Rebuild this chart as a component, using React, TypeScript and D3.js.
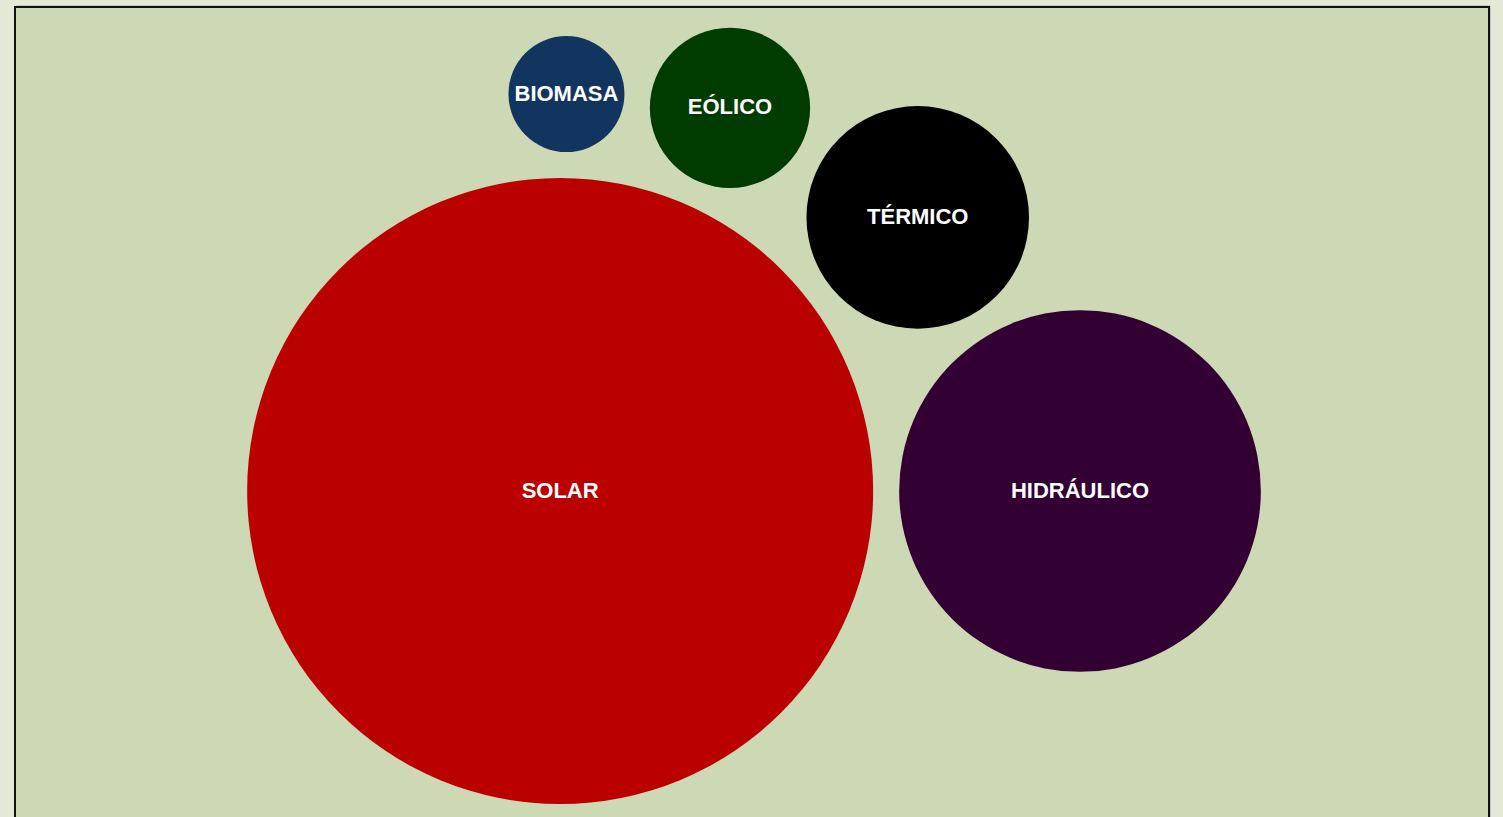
import React, { useEffect, useRef } from "react";
import * as d3 from "d3";

// share of installed capacity, %
const sources = ["SOLAR", "HIDRÁULICO", "TÉRMICO", "EÓLICO", "BIOMASA"];
const shares = [64.1, 21.4, 8.1, 4.2, 2.2];
const colors = ["#bb0000", "#330033", "#000000", "#003c00", "#123560"];
// each bubble after the second rests on these two earlier ones
const restsOn = [null, null, [0, 1], [0, 2], [0, 3]];

const width = 1503;
const height = 817;
const boxLeft = 15;
const boxTop = 7;
const boxRight = 1489;
const chartLeft = 16;
const chartTop = 8;
const chartWidth = 1476;
const chartHeight = 966;
const maxRadius = 313;
const padding = 13;

type Node = { name: string; color: string; radius: number; r: number; x: number; y: number };

// centre of a circle of radius c.r touching p and q, on the upper side
function touching(p: Node, q: Node, c: Node) {
  const dx = q.x - p.x;
  const dy = q.y - p.y;
  const d = Math.sqrt(dx * dx + dy * dy);
  const ra = p.r + c.r;
  const rb = q.r + c.r;
  const a = (ra * ra - rb * rb + d * d) / (2 * d);
  const h = Math.sqrt(Math.max(0, ra * ra - a * a));
  const mx = p.x + (a * dx) / d;
  const my = p.y + (a * dy) / d;
  const c1 = [mx + (h * dy) / d, my - (h * dx) / d];
  const c2 = [mx - (h * dy) / d, my + (h * dx) / d];
  const best = c1[1] < c2[1] ? c1 : c2;
  c.x = best[0];
  c.y = best[1];
}

const App = () => {
  const svgRef = useRef<SVGSVGElement>(null);

  useEffect(() => {
    const svg = d3.select(svgRef.current);
    svg.selectAll("*").remove();

    svg
      .append("rect")
      .attr("width", width)
      .attr("height", height)
      .attr("fill", "#e3e9d6");

    // shadow + framed panel
    svg
      .append("rect")
      .attr("x", boxLeft + 1.5)
      .attr("y", boxTop - 1.5)
      .attr("width", boxRight - boxLeft)
      .attr("height", height + 20)
      .attr("fill", "#a8a8a0");
    svg
      .append("rect")
      .attr("x", boxLeft)
      .attr("y", boxTop)
      .attr("width", boxRight - boxLeft)
      .attr("height", height + 20)
      .attr("fill", "#cdd9b5")
      .attr("stroke", "#111")
      .attr("stroke-width", 2);

    const r = d3
      .scaleSqrt()
      .domain([0, d3.max(shares) as number])
      .range([0, maxRadius]);

    const nodes: Node[] = sources.map((name, i) => ({
      name,
      color: colors[i],
      radius: r(shares[i]),
      r: r(shares[i]) + padding,
      x: 0,
      y: 0,
    }));

    // first two side by side, the rest tucked in against earlier ones
    nodes[0].x = -nodes[1].r;
    nodes[1].x = nodes[0].r;
    nodes.forEach((n, i) => {
      const pair = restsOn[i];
      if (pair) touching(nodes[pair[0]], nodes[pair[1]], n);
    });

    const e = d3.packEnclose(nodes);
    const cx = chartLeft + chartWidth / 2;
    const cy = chartTop + chartHeight / 2;

    const g = svg
      .selectAll("g.bubble")
      .data(nodes)
      .enter()
      .append("g")
      .attr("class", "bubble")
      .attr("transform", (d) => `translate(${cx + d.x - e.x},${cy + d.y - e.y})`);

    g.append("circle")
      .attr("r", (d) => d.radius)
      .attr("fill", (d) => d.color);

    g.append("text")
      .attr("text-anchor", "middle")
      .attr("dy", "0.3em")
      .style("font-family", "'Liberation Sans', Arial, sans-serif")
      .style("font-weight", "bold")
      .style("font-size", "22px")
      .style("fill", "#fff")
      .text((d) => d.name);
  }, []);

  return (
    <div style={{ position: "fixed", left: 0, top: 0, width, height, overflow: "hidden" }}>
      <svg width={width} height={height} ref={svgRef}></svg>
    </div>
  );
};

export default App;
